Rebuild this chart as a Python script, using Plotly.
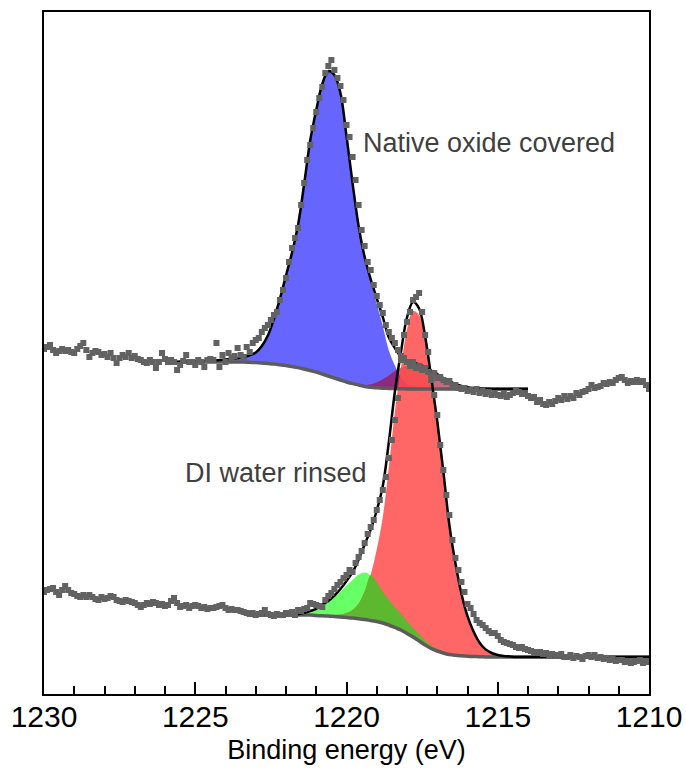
import numpy as np
import plotly.graph_objects as go

# ---------------- data (intensity in arbitrary units) ----------------
energy_data = np.round(np.linspace(1230.0, 1210.0, 201), 2)   # measured binding energies, 0.1 eV step

native_counts = [
    345, 347, 349, 344, 341, 343, 345, 343, 344, 342,
    341, 345, 348, 351, 344, 337, 341, 343, 342, 339,
    340, 337, 341, 336, 331, 336, 339, 337, 341, 336,
    338, 335, 334, 332, 331, 334, 332, 326, 332, 341,
    335, 332, 334, 332, 324, 329, 333, 339, 332, 332,
    329, 334, 332, 327, 334, 335, 334, 351, 327, 339,
    332, 341, 336, 338, 346, 339, 337, 347, 342, 351,
    354, 356, 362, 366, 369, 374, 379, 382, 394, 404,
    416, 432, 446, 456, 466, 489, 511, 534, 549, 566,
    582, 596, 607, 621, 628, 634, 624, 616, 608, 594,
    569, 557, 537, 514, 489, 464, 448, 432, 424, 409,
    398, 389, 381, 369, 362, 356, 351, 344, 338, 336,
    332, 328, 332, 326, 328, 324, 326, 322, 319, 321,
    316, 317, 314, 312, 313, 308, 309, 306, 305, 306,
    303, 304, 302, 305, 301, 303, 300, 302, 299, 301,
    299, 298, 300, 297, 299, 301, 303, 302, 300, 301,
    298, 296, 297, 292, 294, 290, 289, 292, 290, 293,
    296, 294, 298, 295, 298, 296, 301, 299, 302, 303,
    305, 309, 306, 307, 308, 311, 310, 312, 311, 314,
    316, 317, 314, 311, 313, 312, 314, 312, 313, 309, 305,
]

rinsed_counts = [
    102, 104, 105, 106, 102, 99, 104, 108, 104, 101,
    100, 98, 97, 99, 97, 99, 97, 95, 94, 97,
    95, 96, 98, 97, 94, 93, 92, 94, 93, 92,
    91, 89, 87, 89, 91, 90, 92, 91, 89, 90,
    88, 89, 93, 96, 91, 87, 88, 89, 86, 88,
    89, 88, 86, 87, 85, 86, 86, 87, 88, 89,
    86, 84, 85, 84, 84, 83, 82, 81, 80, 81,
    79, 80, 81, 84, 80, 79, 78, 80, 79, 79,
    81, 80, 82, 79, 84, 83, 85, 86, 91, 90,
    89, 88, 87, 94, 98, 101, 105, 109, 112, 116,
    119, 124, 122, 131, 137, 143, 151, 160, 167, 174,
    184, 194, 204, 217, 236, 254, 274, 296, 334, 359,
    372, 382, 394, 397, 401, 382, 359, 342, 314, 299,
    279, 249, 224, 199, 179, 154, 136, 124, 112, 102,
    90, 86, 80, 74, 71, 69, 66, 63, 61, 61,
    58, 54, 52, 51, 50, 49, 47, 46, 47, 45,
    44, 43, 42, 41, 42, 40, 41, 39, 40, 39,
    38, 40, 37, 37, 39, 36, 38, 37, 35, 38,
    39, 37, 39, 36, 37, 35, 36, 34, 35, 33,
    34, 34, 32, 33, 31, 32, 33, 34, 31, 32, 33,
]

# fit of the native-oxide-covered spectrum (0.2 eV step, 1226.0 -> 1214.0)
fit_energy_native = np.round(np.linspace(1226.0, 1214.0, 61), 2)
native_background = (
    [332] * 14
    + [331.7, 331.4, 331.0, 330.5, 330.0, 329.3, 328.5, 327.5, 326.4, 325.0,
       323.5, 322.0, 320.0, 318.0, 316.0, 314.0, 312.0, 310.4, 309.0, 307.5,
       306.7, 306.2, 305.8, 305.6, 305.4, 305.2]
    + [305] * 21
)
native_oxide_peak = (
    [0, 0, 0, 0.5, 0.5, 0.7, 1, 1.2, 1.5, 2, 2.5, 3, 4, 5]
    + [7, 10, 17, 28, 45, 66, 90, 114, 143, 185, 230, 262, 290, 305, 303, 287,
       246, 200, 158, 128, 105, 84, 62, 38, 23, 11]
    + [5, 3, 2, 1.5, 1, 1, 0.5, 0.5] + [0] * 13
)
native_metal_peak = (
    [0] * 31 + [0.5, 1]
    + [1.5, 3, 5.5, 9, 13, 17.5, 21, 23, 23.5, 22.5, 20.5, 17.5, 14, 10.5,
       7.5, 5, 3, 1.8, 1, 0.5, 0.2]
    + [0] * 7
)

# fit of the DI-water-rinsed spectrum (0.2 eV step, 1223.2 -> 1210.0)
fit_energy_rinsed = np.round(np.linspace(1223.2, 1210.0, 67), 2)
rinsed_background = (
    [79] * 11
    + [78.5, 78.3, 78.0, 77.5, 77.0, 76.5, 76.0, 75.3, 74.5, 73.5, 72.5, 71.0,
       69.0, 66.5, 64.0, 60.5, 57.0, 53.0, 49.0, 45.5, 43.0, 41.0, 39.5, 38.7,
       38.2, 37.8, 37.5, 37.3, 37.1]
    + [37] * 27
)
rinsed_suboxide_peak = (
    [0, 0, 0, 0, 0, 0.1, 0.2, 0.4]
    + [0.8, 1.8, 3.5, 6, 10, 14, 19.5, 25.5, 32, 38, 44, 47, 45, 39, 31, 25,
       20, 16, 12, 9, 6.5, 4.5, 3, 2, 1.2, 0.7, 0.3]
    + [0] * 32
)
rinsed_metal_peak = (
    [0, 0, 0, 0, 0, 0, 0, 0, 0, 0.3, 0.5, 0.7]
    + [1, 1, 1.5, 2.5, 4.5, 8, 15, 28, 46, 72, 106, 158, 216, 262, 304, 326,
       326, 304, 268, 228, 181, 129, 92, 62, 40, 25, 14, 7.5, 4, 2, 1, 0.5]
    + [0] * 23
)

labels = ["Native oxide covered", "DI water rinsed"]
label_positions = [(1219.52, 551), (1225.40, 221.5)]

# ---------------- figure ----------------
fig = go.Figure()

def add_fill(x, base, top, color):
    fig.add_trace(go.Scatter(x=x, y=base, mode="lines",
                             line=dict(width=0, shape="spline"),
                             hoverinfo="skip", showlegend=False))
    fig.add_trace(go.Scatter(x=x, y=top, mode="lines",
                             line=dict(width=0, shape="spline"),
                             fill="tonexty", fillcolor=color,
                             hoverinfo="skip", showlegend=False))

nb = np.array(native_background, dtype=float)
no = np.array(native_oxide_peak, dtype=float)
nm = np.array(native_metal_peak, dtype=float)
rb = np.array(rinsed_background, dtype=float)
rs = np.array(rinsed_suboxide_peak, dtype=float)
rm = np.array(rinsed_metal_peak, dtype=float)

# component fills
add_fill(fit_energy_native, nb, nb + no, "#6666ff")
add_fill(fit_energy_native, nb, nb + nm, "rgba(170,0,40,0.6)")
add_fill(fit_energy_rinsed, rb, rb + rs, "#66ff66")
add_fill(fit_energy_rinsed, rb, rb + rm, "rgba(255,75,75,0.85)")
add_fill(fit_energy_rinsed, rb, rb + np.minimum(rs, rm), "#5cb82e")

# backgrounds
for x, b in [(fit_energy_native, nb), (fit_energy_rinsed, rb)]:
    fig.add_trace(go.Scatter(x=x, y=b, mode="lines",
                             line=dict(color="#5c5c5c", width=3.5, shape="spline"),
                             hoverinfo="skip", showlegend=False))

# envelopes
fig.add_trace(go.Scatter(x=fit_energy_native, y=nb + no + nm, mode="lines",
                         line=dict(color="black", width=2.5, shape="spline"),
                         showlegend=False))
fig.add_trace(go.Scatter(x=fit_energy_rinsed, y=rb + rs + rm, mode="lines",
                         line=dict(color="black", width=2.5, shape="spline"),
                         showlegend=False))

# measured data
for counts in (native_counts, rinsed_counts):
    fig.add_trace(go.Scatter(x=energy_data, y=counts, mode="markers",
                             marker=dict(symbol="square", size=6, color="#626262",
                                         line=dict(width=0)),
                             showlegend=False))

for text, (xe, yv) in zip(labels, label_positions):
    fig.add_annotation(x=xe, y=yv, xref="x", yref="y", text=text, showarrow=False,
                       xanchor="left", yanchor="middle",
                       font=dict(size=27, color="#404040"))

fig.update_layout(
    width=686, height=768,
    margin=dict(l=44, r=37, t=12, b=74, autoexpand=False),
    paper_bgcolor="white", plot_bgcolor="white",
    showlegend=False,
    font=dict(family="Liberation Sans, Arial, sans-serif", color="black"),
)
fig.update_xaxes(
    range=[1230, 1210], automargin=False,
    tickvals=[1230, 1225, 1220, 1215, 1210],
    ticks="inside", ticklen=12, tickwidth=1.5, tickcolor="black",
    minor=dict(ticks="inside", ticklen=8, tickwidth=1.5, tickcolor="black", dtick=1),
    showline=True, linecolor="black", linewidth=2, mirror=True,
    showgrid=False, zeroline=False,
    tickfont=dict(size=30, color="black"),
    ticklabelstandoff=-5,
    title=dict(text="Binding energy (eV)", font=dict(size=27, color="black"), standoff=8),
)
fig.update_yaxes(
    range=[0, 682], showticklabels=False, ticks="", automargin=False,
    showline=True, linecolor="black", linewidth=2, mirror=True,
    showgrid=False, zeroline=False,
)

fig.write_html(
    "out.html",
    config={"displayModeBar": False},
    post_script="document.body.style.margin='0';document.body.style.overflow='hidden';",
)
